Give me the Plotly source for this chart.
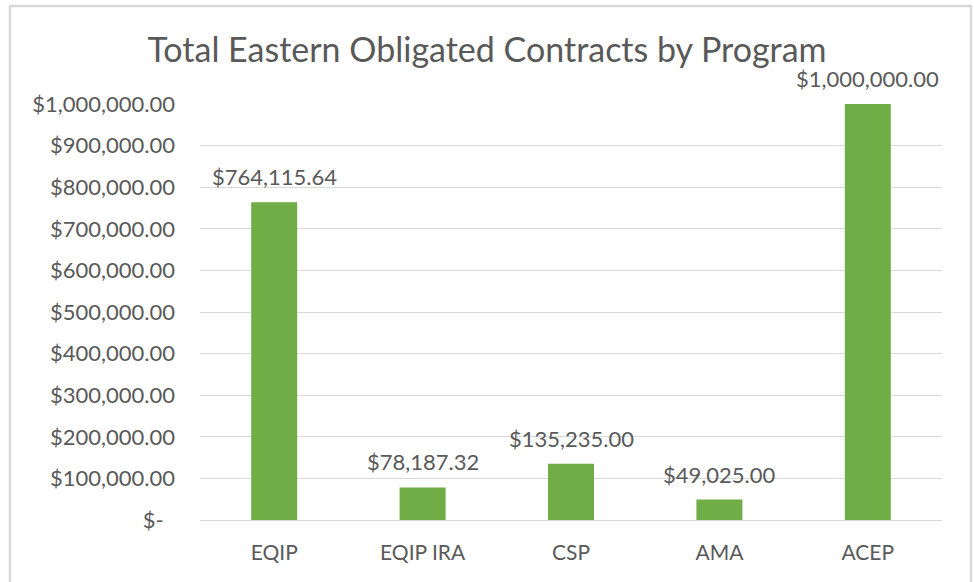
import plotly.graph_objects as go

programs = ["EQIP", "EQIP IRA", "CSP", "AMA", "ACEP"]
obligated = [764115.64, 78187.32, 135235.00, 49025.00, 1000000.00]
tick_values = [0, 100000, 200000, 300000, 400000, 500000, 600000, 700000, 800000, 900000, 1000000]
tick_labels = ["$-\u00a0\u00a0", "$100,000.00", "$200,000.00", "$300,000.00", "$400,000.00",
               "$500,000.00", "$600,000.00", "$700,000.00", "$800,000.00", "$900,000.00",
               "$1,000,000.00"]
title_text = "Total Eastern Obligated Contracts by Program"

FONT = "Lato"
GRAY = "#595959"

fig = go.Figure()
fig.add_trace(go.Bar(
    x=programs, y=obligated,
    marker=dict(color="#70AD47", line=dict(width=0)),
    width=0.31,
    hoverinfo="x+y",
))

# data labels placed at each bar's value through the axes
for p, v in zip(programs, obligated):
    fig.add_annotation(x=p, y=v, xref="x", yref="y", text=f"${v:,.2f}",
                       showarrow=False, yanchor="bottom", yshift=10,
                       font=dict(family=FONT, size=22, color=GRAY))

W, H = 974, 582
L, R, T, B = 200, 32, 104, 62
pw, ph = W - L - R, H - T - B
def px(x): return (x - L) / pw
def py(y): return (H - B - y) / ph

fig.update_layout(
    width=W, height=H,
    margin=dict(l=L, r=R, t=T, b=B),
    paper_bgcolor="white", plot_bgcolor="white",
    title=dict(text=title_text, x=0.5, xref="container", xanchor="center",
               y=1 - 50 / H, yanchor="middle",
               font=dict(family=FONT, size=34, color=GRAY)),
    showlegend=False,
    xaxis=dict(showgrid=False, showline=False, ticks="",
               tickfont=dict(family=FONT, size=21, color=GRAY),
               ticklabelstandoff=18),
    yaxis=dict(range=[0, 1000000], tickvals=tick_values, ticktext=tick_labels,
               showgrid=True, gridcolor="#D9D9D9", gridwidth=1,
               zeroline=True, zerolinecolor="#D9D9D9", zerolinewidth=1,
               showline=False, ticks="",
               tickfont=dict(family=FONT, size=22, color=GRAY),
               ticklabelstandoff=24),
    shapes=[dict(type="rect", xref="paper", yref="paper",
                 x0=px(10), x1=px(971), y0=py(592), y1=py(6),
                 line=dict(color="#D9D9D9", width=2.5), fillcolor="rgba(0,0,0,0)",
                 layer="below")],
)

fig.write_html("out.html", config={"displayModeBar": False},
               post_script="document.body.style.margin='0';document.body.style.overflow='hidden';")
